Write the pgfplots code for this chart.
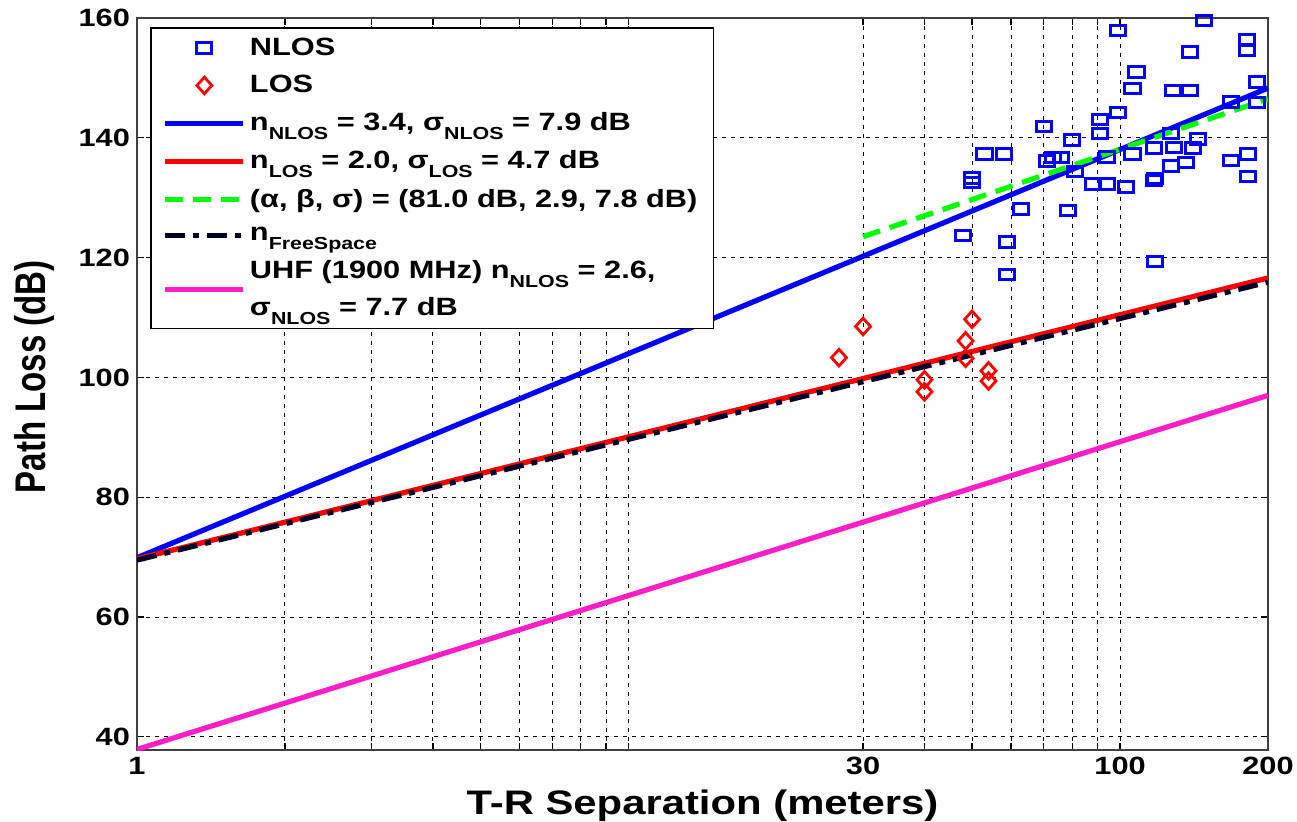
\documentclass[border=0pt]{standalone}
\usepackage{pgfplots}
\pgfplotsset{compat=1.18}
\usepackage{fontspec}
\setmainfont{Liberation Sans}[FakeStretch=1.23]
\newfontfamily\ylfont{Liberation Sans}
\definecolor{nblue}{RGB}{0,0,255}
\definecolor{lred}{RGB}{255,0,0}
\definecolor{fgreen}{RGB}{0,255,0}
\definecolor{fsblack}{RGB}{0,0,40}
\definecolor{upink}{RGB}{255,30,200}
\newcommand\sub[1]{\raisebox{-4.5pt}{\fontsize{8.7}{10}\selectfont #1}}
\pgfplotstableread{
x y
99 157.9
148 159.6
139 154.3
181 156.4
181 154.6
108 151
106 148.2
128 147.9
139 147.9
190 149.3
190 145.9
168 146
99 144.2
91 143.1
91 140.7
70 141.9
80 139.6
127 140.7
144 139.8
53 137.3
58 137.3
73 136.7
76 136.7
71 136.1
81 134.4
94 136.8
106 137.3
117 138.3
129 138.4
141 138.3
127 135.3
136 135.9
168 136.2
182 137.3
182 133.5
50 133.3
50 132.5
88 132.3
94 132.3
103 131.8
117 132.9
118 133.2
63 128.1
78.5 127.9
48 123.7
59 122.6
59 117.2
118 119.4
}\nlos
\pgfplotstableread{
x y
26.8 103.3
30 108.5
40 99.6
40 97.6
50 109.7
48.5 106.1
48.5 103.2
54 101.1
54 99.4
}\los
\begin{document}
\begin{tikzpicture}
\begin{axis}[
  name=ax,
  scale only axis, width=565.5pt, height=366pt,
  xmode=log, xmin=1, xmax=200, ymin=37.8, ymax=160,
  xtick={1,2,3,4,5,6,7,8,9,10,30,40,50,60,70,80,90,100,200},
  xticklabels={1,{},{},{},{},{},{},{},{},{},30,{},{},{},{},{},{},100,200},
  ytick={40,60,80,100,120,140,160},
  xminorticks=false,
  tick align=inside, major tick length=3.5pt,
  xmajorgrids, ymajorgrids,
  grid style={black, line width=0.5pt, dash pattern=on 2pt off 2.5pt},
  axis line style={line width=1pt, black!75},
  tick style={black, line width=0.6pt},
  /pgf/number format/assume math mode=true,
  tick label style={font=\bfseries\fontsize{12.5}{14}\selectfont},
  xlabel={T-R Separation (meters)},
  xlabel style={font=\bfseries\fontsize{17}{20}\selectfont, at={(axis description cs:0.5,-0.088)}, anchor=base},
  ylabel={\scalebox{1}[1.3]{\ylfont\bfseries\fontsize{16.5}{20}\selectfont Path Loss (dB)}},
  ylabel style={at={(axis description cs:-0.0813,0.51)}, anchor=base, rotate=0},
  legend style={at={(axis description cs:0,1)}, anchor=north west, xshift=6.5pt, yshift=-4.5pt,
    draw=black, line width=0.8pt, font=\bfseries\fontsize{12.5}{18.5}\selectfont,
    cells={anchor=west, align=left}, row sep=4.5pt, inner xsep=6pt, inner ysep=3pt},
  legend cell align=left,
  legend image code/.code={\draw[mark repeat=2,mark phase=2,#1] plot coordinates {(0pt,0pt) (19.5pt,0pt) (39pt,0pt)};},
]
\addplot[only marks, mark=square, nblue, mark size=2.6pt, mark options={line width=1.5pt, xscale=1.45}] table[x=x,y=y] {\nlos};
\addlegendentry{NLOS}
\addplot[only marks, mark=diamond, lred, mark size=4.15pt, mark options={line width=1.4pt, xscale=1.2}] table[x=x,y=y] {\los};
\addlegendentry{LOS}
\addplot[nblue, line width=2.6pt] coordinates {(1,69.9) (200,148.3)};
\addlegendentry{n\sub{NLOS} = 3.4, σ\sub{NLOS} = 7.9 dB}
\addplot[lred, line width=2.6pt] coordinates {(1,69.7) (200,116.6)};
\addlegendentry{n\sub{LOS} = 2.0, σ\sub{LOS} = 4.7 dB}
\addplot[fgreen, line width=2.6pt, dash pattern=on 9pt off 5pt] coordinates {(30,123.5) (200,146.5)};
\addlegendentry{(α, β, σ) = (81.0 dB, 2.9, 7.8 dB)}
\addplot[fsblack, line width=2.6pt, dash pattern=on 10pt off 4pt on 3pt off 4pt] coordinates {(1,69.5) (200,115.9)};
\addlegendentry{n\sub{FreeSpace}}
\addplot[upink, line width=2.6pt] coordinates {(1,37.9) (200,97.0)};
\addlegendentry{UHF (1900 MHz) n\sub{NLOS} = 2.6,\\σ\sub{NLOS} = 7.7 dB}
\end{axis}
\pgfresetboundingbox
\path[use as bounding box] ([xshift=-68.5pt,yshift=-35.5pt]ax.south west) rectangle ([xshift=14.5pt,yshift=9pt]ax.north east);
\end{tikzpicture}
\end{document}
